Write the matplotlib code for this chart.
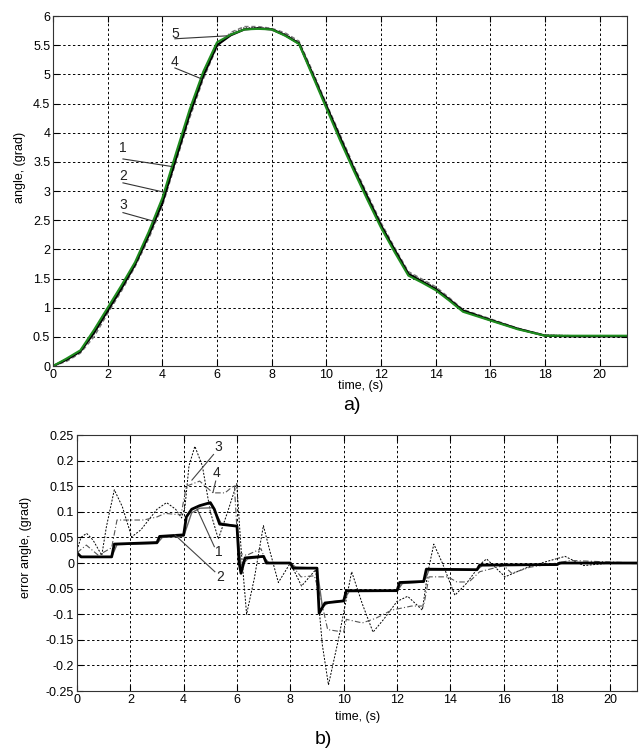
import numpy as np
import matplotlib
matplotlib.use("Agg")
import matplotlib.pyplot as plt
from matplotlib.ticker import FuncFormatter

plt.rcParams['font.family'] = ['Liberation Sans', 'DejaVu Sans']
plt.rcParams['font.size'] = 9

# --- a) angle, reference and outputs ---
t_a = [0, 0.5, 1, 1.5, 2, 2.5, 3, 3.5, 4, 4.5, 5, 5.5, 6, 6.5, 7, 7.5, 8, 8.5, 9,
       9.5, 10, 10.5, 11, 11.5, 12, 12.5, 13, 13.5, 14, 14.5, 15, 16, 17, 18, 19, 20, 21]
angle_ref = [0, 0.13, 0.27, 0.62, 1.0, 1.38, 1.78, 2.3, 2.88, 3.65, 4.4, 5.05, 5.55, 5.68,
             5.77, 5.78, 5.77, 5.66, 5.52, 4.97, 4.42, 3.87, 3.35, 2.85, 2.37, 1.95, 1.55,
             1.43, 1.3, 1.12, 0.93, 0.78, 0.63, 0.52, 0.52, 0.52, 0.52]
angle_1 = [0, 0.11, 0.25, 0.57, 0.95, 1.33, 1.74, 2.24, 2.8, 3.56, 4.32, 4.98, 5.5, 5.67,
           5.77, 5.79, 5.77, 5.67, 5.53, 5.0, 4.46, 3.92, 3.39, 2.9, 2.41, 1.99, 1.58,
           1.45, 1.32, 1.14, 0.95, 0.79, 0.64, 0.52, 0.51, 0.51, 0.51]
angle_2 = [0, 0.1, 0.24, 0.55, 0.93, 1.31, 1.72, 2.22, 2.78, 3.54, 4.3, 4.96, 5.49, 5.7,
           5.8, 5.8, 5.78, 5.69, 5.55, 5.02, 4.48, 3.94, 3.41, 2.92, 2.43, 2.0, 1.6,
           1.47, 1.34, 1.15, 0.96, 0.8, 0.64, 0.53, 0.52, 0.52, 0.52]
angle_5 = [0, 0.08, 0.22, 0.5, 0.9, 1.28, 1.7, 2.18, 2.74, 3.5, 4.25, 4.92, 5.47, 5.72,
           5.82, 5.82, 5.79, 5.71, 5.57, 5.05, 4.5, 3.97, 3.44, 2.95, 2.46, 2.03, 1.62,
           1.49, 1.36, 1.17, 0.97, 0.81, 0.65, 0.53, 0.52, 0.52, 0.52]

# --- b) angle errors ---
t_e1 = [0, 0.15, 1.3, 1.4, 3.0, 3.1, 4.0, 4.1, 4.3, 4.6, 5.0, 5.15, 5.35, 6.0, 6.08,
        6.15, 6.3, 7.0, 7.1, 8.0, 8.1, 9.0, 9.08, 9.3, 10.0, 10.1, 12.0, 12.1, 13.0,
        13.1, 15.0, 15.1, 18.0, 18.1, 21]
err_1 = [0.02, 0.012, 0.012, 0.037, 0.04, 0.052, 0.055, 0.09, 0.105, 0.112, 0.118,
         0.105, 0.076, 0.072, 0.0, -0.02, 0.01, 0.013, 0.0, 0.0, -0.01, -0.01, -0.098,
         -0.078, -0.074, -0.054, -0.054, -0.038, -0.036, -0.012, -0.013, -0.004,
         -0.003, 0.0, 0.0]

t_e2 = [0, 0.2, 1.3, 1.5, 3.0, 3.2, 4.0, 4.3, 4.6, 5.1, 5.4, 6.0, 6.15, 6.4, 7.0, 7.2,
        8.0, 8.2, 9.0, 9.2, 9.5, 10.0, 10.2, 12.0, 12.2, 13.0, 13.2, 15.0, 15.2, 18.0,
        18.2, 21]
err_2 = [0.018, 0.012, 0.012, 0.036, 0.038, 0.05, 0.052, 0.098, 0.107, 0.108, 0.078,
         0.072, -0.005, 0.008, 0.012, 0.0, 0.0, -0.008, -0.01, -0.085, -0.076, -0.073,
         -0.056, -0.055, -0.04, -0.037, -0.014, -0.013, -0.005, -0.004, 0.0, 0.0]

t_e3 = [0, 0.15, 0.36, 0.6, 0.93, 1.1, 1.4, 1.7, 2.05, 2.4, 2.7, 3.0, 3.36, 3.7, 3.92,
        4.05, 4.2, 4.42, 4.7, 5.0, 5.3, 5.65, 5.99, 6.15, 6.36, 6.65, 6.99, 7.25, 7.55,
        8.0, 8.42, 8.95, 9.2, 9.43, 9.8, 10.3, 10.7, 11.1, 11.5, 12.0, 12.4, 12.95,
        13.15, 13.38, 13.7, 14.17, 14.6, 15.17, 15.36, 16.05, 17.0, 18.3, 19.0, 20.0, 21.0]
err_3 = [0.025, 0.05, 0.058, 0.045, 0.015, 0.07, 0.143, 0.11, 0.051, 0.065, 0.085,
         0.105, 0.118, 0.105, 0.088, 0.11, 0.19, 0.228, 0.19, 0.1, 0.047, 0.1, 0.155,
         0.03, -0.1, -0.03, 0.073, 0.02, -0.038, 0.0, -0.045, -0.013, -0.16, -0.238,
         -0.15, -0.017, -0.08, -0.135, -0.11, -0.075, -0.065, -0.092, -0.02, 0.037, 0.0,
         -0.063, -0.04, 0.0, 0.008, -0.027, -0.006, 0.013, -0.005, 0.0, 0.0]

t_e4 = [0, 0.35, 0.8, 1.3, 1.5, 2.5, 3.0, 3.3, 3.9, 4.1, 4.6, 5.1, 5.55, 5.9, 6.05,
        6.36, 6.9, 7.1, 8.0, 8.4, 8.9, 9.1, 9.4, 10.0, 10.1, 10.7, 11.2, 11.8, 12.55,
        13.0, 13.2, 13.9, 14.25, 14.7, 15.1, 16.0, 16.3, 17.0, 18.0, 18.5, 21]
err_4 = [0.02, 0.035, 0.015, 0.03, 0.084, 0.084, 0.09, 0.097, 0.094, 0.15, 0.16, 0.137,
         0.137, 0.152, 0.02, 0.015, 0.028, 0.0, 0.0, -0.027, -0.025, -0.06, -0.13,
         -0.135, -0.11, -0.117, -0.108, -0.092, -0.084, -0.084, -0.027, -0.027, -0.037,
         -0.037, -0.017, -0.005, -0.02, -0.008, 0.0, 0.005, 0.0]

# curve labels: (text, text pos, line start, line end)
labels_a = [("5", (4.46, 5.70), (4.46, 5.61), (6.35, 5.66)),
            ("4", (4.43, 5.21), (4.46, 5.11), (5.45, 4.92)),
            ("1", (2.56, 3.73), (2.56, 3.55), (4.35, 3.42)),
            ("2", (2.56, 3.25), (2.56, 3.14), (4.06, 2.98)),
            ("3", (2.56, 2.76), (2.56, 2.63), (3.70, 2.48))]
labels_b = [("3", (5.3, 0.227), (5.12, 0.212), (4.31, 0.162)),
            ("4", (5.24, 0.175), (5.2, 0.16), (5.1, 0.138)),
            ("1", (5.3, 0.022), (5.15, 0.032), (4.49, 0.107)),
            ("2", (5.36, -0.027), (5.17, -0.017), (3.67, 0.055))]

grid_style = dict(color='k', linestyle=(0, (2.5, 2.5)), linewidth=0.7)
fmt = FuncFormatter(lambda v, p: '%g' % (round(v, 3) + 0.0))


def style_axes(ax):
    ax.grid(True, **grid_style)
    ax.tick_params(direction='in', length=4, top=True, right=True, pad=2)
    for s in ax.spines.values():
        s.set_color('#333333')
        s.set_linewidth(0.8)
    ax.xaxis.set_major_formatter(fmt)
    ax.yaxis.set_major_formatter(fmt)


fig = plt.figure(figsize=(6.41, 7.49), dpi=100)

ax1 = fig.add_axes([0.0827, 0.5113, 0.8955, 0.4673])
ax1.plot(t_a, angle_5, color='#777777', linestyle=(0, (3, 2)), linewidth=1.0)
ax1.plot(t_a, angle_2, color='#555555', linestyle=(0, (1, 1)), linewidth=1.0)
ax1.plot(t_a, angle_1, color='k', linewidth=1.6)
ax1.plot(t_a, angle_ref, color='#1e8c1e', linewidth=1.5)
ax1.set_xlim(0, 21)
ax1.set_ylim(0, 6)
ax1.set_xticks(np.arange(0, 21, 2))
ax1.set_yticks(np.arange(0, 6.01, 0.5))
style_axes(ax1)
for txt, tp, p0, p1 in labels_a:
    ax1.text(tp[0], tp[1], txt, ha='center', va='center', fontsize=10, color='#222222')
    ax1.plot([p0[0], p1[0]], [p0[1], p1[1]], color='#333333', linewidth=0.8)

ax2 = fig.add_axes([0.1201, 0.0774, 0.8737, 0.3418])
ax2.plot(t_e3, err_3, color='k', linestyle=(0, (2, 1.5)), linewidth=0.7)
ax2.plot(t_e4, err_4, color='#555555', linestyle=(0, (5, 2, 1, 2)), linewidth=0.8)
ax2.plot(t_e2, err_2, color='#666666', linewidth=1.0)
ax2.plot(t_e1, err_1, color='k', linewidth=2.0)
ax2.set_xlim(0, 21)
ax2.set_ylim(-0.25, 0.25)
ax2.set_xticks(np.arange(0, 21, 2))
ax2.set_yticks(np.arange(-0.25, 0.2501, 0.05))
style_axes(ax2)
for txt, tp, p0, p1 in labels_b:
    ax2.text(tp[0], tp[1], txt, ha='center', va='center', fontsize=10, color='#222222')
    ax2.plot([p0[0], p1[0]], [p0[1], p1[1]], color='#444444', linewidth=0.8)

fig.text(20 / 641, 1 - 167 / 749, 'angle, (grad)', rotation=90, ha='center', va='center')
fig.text(361 / 641, 1 - 386 / 749, 'time, (s)', ha='center', va='center')
fig.text(352 / 641, 1 - 406 / 749, 'a)', ha='center', va='center', fontsize=14)
fig.text(26 / 641, 1 - 547 / 749, 'error angle, (grad)', rotation=90, ha='center', va='center')
fig.text(358 / 641, 1 - 717 / 749, 'time, (s)', ha='center', va='center')
fig.text(323 / 641, 1 - 740 / 749, 'b)', ha='center', va='center', fontsize=14)

fig.savefig('out.png', dpi=100)
